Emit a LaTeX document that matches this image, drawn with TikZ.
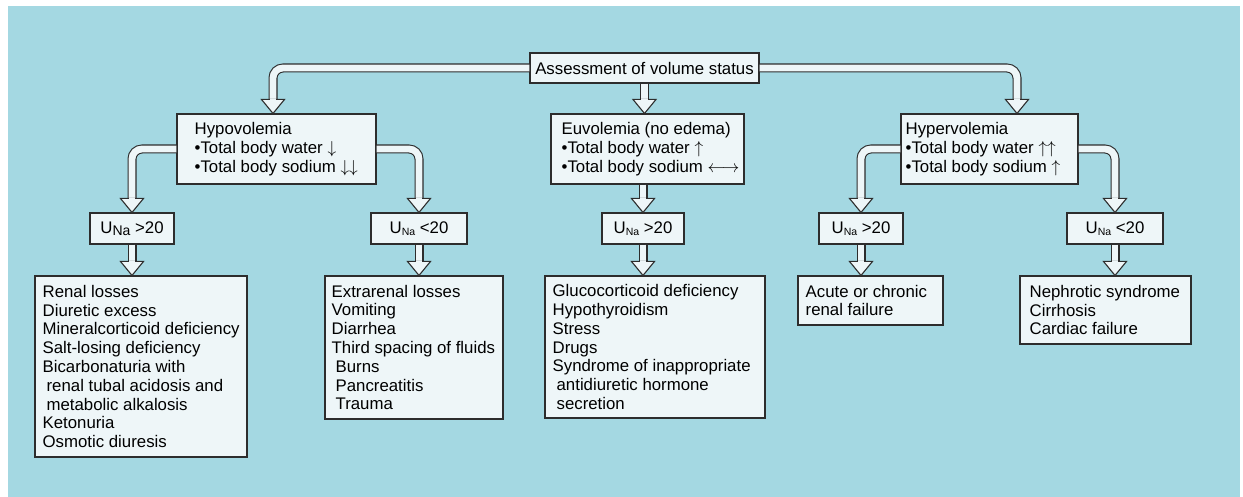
\documentclass[tikz,border=0pt]{standalone}
\usepackage{fontspec}
\setmainfont{Liberation Sans}
\definecolor{bg}{RGB}{164,216,226}
\definecolor{boxfill}{RGB}{238,246,248}
\definecolor{linec}{RGB}{45,45,45}
\newcommand{\unasub}[2]{U\raisebox{#2}{\fontsize{#1}{#1}\selectfont Na}}
\newcommand{\hhead}[1]{%
  \filldraw[headst] (#1) -- ++(-11.5pt,14pt) -- ++(23pt,0pt) -- cycle;
  \draw[draw=boxfill, line width=1.8pt] ([shift={(-3.2pt,14pt)}]#1) -- ([shift={(3.2pt,14pt)}]#1);}
\begin{document}
\begin{tikzpicture}[x=1pt,y=-1pt,
  box/.style={draw=linec, fill=boxfill, line width=1.1pt, inner sep=0pt, font=\fontsize{16.8}{18.8}\selectfont},
  txt/.style={align=left, inner sep=0pt, anchor=west, font=\fontsize{16.8}{18.8}\selectfont},
  shaft/.style={draw=linec, line width=1.1pt, double=boxfill, double distance=6.8pt, rounded corners=10pt},
  headst/.style={draw=linec, fill=boxfill, line width=1.1pt, line join=miter}]
\useasboundingbox (0,0) rectangle (1243,497);
\fill[bg] (8,6) rectangle (1240,497);

% boxes
\node[box, minimum width=229pt, minimum height=30pt] (top) at (644.5,68) {Assessment of volume status};
\node[box, minimum width=199pt, minimum height=70pt] (hypo) at (276.5,149) {};
\node[box, minimum width=193pt, minimum height=70pt] (euvo) at (647.5,149) {};
\node[box, minimum width=177pt, minimum height=70pt] (hyper) at (989.5,149) {};
\node[box, minimum width=84pt, minimum height=31pt] (una1) at (132,228.5) {\unasub{14}{-1.5pt} >20};
\node[box, minimum width=96pt, minimum height=31pt] (una2) at (419,228.5) {\unasub{10.5}{-2.5pt} <20};
\node[box, minimum width=82pt, minimum height=31pt] (una3) at (643,228.5) {\unasub{10.5}{-2.5pt} >20};
\node[box, minimum width=84pt, minimum height=31pt] (una4) at (861,228.5) {\unasub{10.5}{-2.5pt} >20};
\node[box, minimum width=96pt, minimum height=31pt] (una5) at (1115,228.5) {\unasub{10.5}{-2.5pt} <20};
\node[box, minimum width=212pt, minimum height=181pt] (renal) at (141,366.5) {};
\node[box, minimum width=178pt, minimum height=143pt] (extra) at (414,347.5) {};
\node[box, minimum width=220pt, minimum height=142pt] (gluco) at (655,347) {};
\node[box, minimum width=145pt, minimum height=49pt] (acute) at (870.5,300.5) {};
\node[box, minimum width=171pt, minimum height=68pt] (neph) at (1105.5,310) {};

% texts
\node[txt] (hypot) at ([xshift=18pt]hypo.west) {Hypovolemia\\\textbullet Total body water $\downarrow$\\\textbullet Total body sodium $\downarrow\downarrow$};
\node[txt] (euvot) at ([xshift=11pt]euvo.west) {Euvolemia (no edema)\\\textbullet Total body water $\uparrow$\\\textbullet Total body sodium $\longleftrightarrow$};
\node[txt] (hypert) at ([xshift=5pt]hyper.west) {Hypervolemia\\\textbullet Total body water $\uparrow\uparrow$\\\textbullet Total body sodium $\uparrow$};
\node[txt] (renalt) at ([xshift=8pt]renal.west) {Renal losses\\Diuretic excess\\Mineralcorticoid deficiency\\Salt-losing deficiency\\Bicarbonaturia with\\\hspace*{4pt}renal tubal acidosis and\\\hspace*{4pt}metabolic alkalosis\\Ketonuria\\Osmotic diuresis};
\node[txt] (extrat) at ([xshift=7pt]extra.west) {Extrarenal losses\\Vomiting\\Diarrhea\\Third spacing of fluids\\\hspace*{4pt}Burns\\\hspace*{4pt}Pancreatitis\\\hspace*{4pt}Trauma};
\node[txt] (glucot) at ([xshift=8pt]gluco.west) {Glucocorticoid deficiency\\Hypothyroidism\\Stress\\Drugs\\Syndrome of inappropriate\\\hspace*{4pt}antidiuretic hormone\\\hspace*{4pt}secretion};
\node[txt] (acutet) at ([xshift=8pt]acute.west) {Acute or chronic\\renal failure};
\node[txt] (nepht) at ([xshift=10pt]neph.west) {Nephrotic syndrome\\Cirrhosis\\Cardiac failure};

% level 1 arrows
\coordinate (h1) at ([xshift=-3.5pt]hypo.north);
\coordinate (h2) at ([xshift=27.5pt]hyper.north);
\coordinate (h3) at (top.south |- euvo.north);
\draw[shaft] (top.west) -| ([yshift=14pt]h1);
\draw[shaft] (top.east) -| ([yshift=14pt]h2);
\draw[shaft] (top.south) -- ([yshift=14pt]h3);
\hhead{h1}\hhead{h2}\hhead{h3}

% level 2 arrows
\draw[shaft] (hypo.west) -| ([yshift=14pt]una1.north);
\draw[shaft] (hypo.east) -| ([yshift=14pt]una2.north);
\draw[shaft] (una3.north |- euvo.south) -- ([yshift=14pt]una3.north);
\draw[shaft] (hyper.west) -| ([yshift=14pt]una4.north);
\draw[shaft] (hyper.east) -| ([yshift=14pt]una5.north);
\hhead{una1.north}\hhead{una2.north}\hhead{una3.north}\hhead{una4.north}\hhead{una5.north}

% level 3 arrows
\coordinate (b1) at (una1.south |- renal.north);
\coordinate (b2) at (una2.south |- extra.north);
\coordinate (b3) at (una3.south |- gluco.north);
\coordinate (b4) at (una4.south |- acute.north);
\coordinate (b5) at (una5.south |- neph.north);
\draw[shaft] (una1.south) -- ([yshift=14pt]b1);
\draw[shaft] (una2.south) -- ([yshift=14pt]b2);
\draw[shaft] (una3.south) -- ([yshift=14pt]b3);
\draw[shaft] (una4.south) -- ([yshift=14pt]b4);
\draw[shaft] (una5.south) -- ([yshift=14pt]b5);
\hhead{b1}\hhead{b2}\hhead{b3}\hhead{b4}\hhead{b5}
\end{tikzpicture}
\end{document}
